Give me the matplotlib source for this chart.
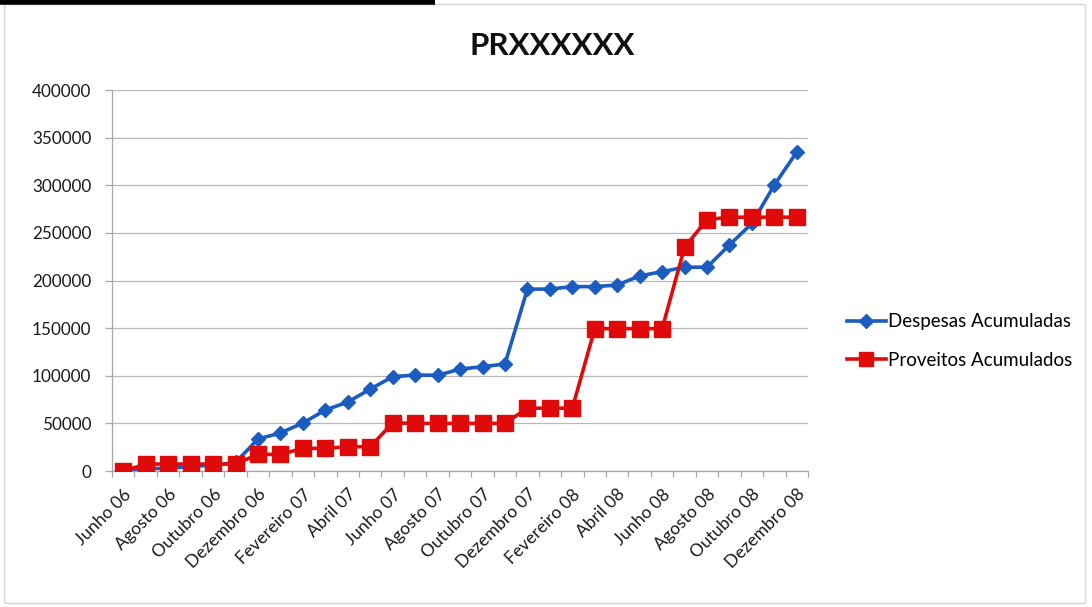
import matplotlib.pyplot as plt
from matplotlib.patches import Rectangle
from matplotlib.lines import Line2D

plt.rcParams["font.family"] = ["Lato", "DejaVu Sans"]

# monthly categories, June 2006 .. December 2008
months = ["Junho 06", "Julho 06", "Agosto 06", "Setembro 06", "Outubro 06",
          "Novembro 06", "Dezembro 06", "Janeiro 07", "Fevereiro 07", "Março 07",
          "Abril 07", "Maio 07", "Junho 07", "Julho 07", "Agosto 07",
          "Setembro 07", "Outubro 07", "Novembro 07", "Dezembro 07", "Janeiro 08",
          "Fevereiro 08", "Março 08", "Abril 08", "Maio 08", "Junho 08",
          "Julho 08", "Agosto 08", "Setembro 08", "Outubro 08", "Novembro 08",
          "Dezembro 08"]

despesas = [0, 3000, 2500, 5000, 6000, 9000, 33600, 40000, 50400, 64000,
            72500, 86000, 99000, 100800, 100500, 107000, 109500, 112400, 191000, 191000,
            193600, 193600, 195300, 204800, 209300, 214000, 214000, 237400, 260000, 300400,
            335000]

proveitos = [0, 7300, 7300, 7300, 7300, 7300, 17500, 17500, 23800, 23800,
             25500, 25500, 50500, 50000, 50000, 50000, 50000, 50000, 66000, 66000,
             66000, 149500, 149500, 149500, 149500, 235000, 264000, 266500, 266500, 266500,
             266500]

yticks = [0, 50000, 100000, 150000, 200000, 250000, 300000, 350000, 400000]

blue = "#1a5cc0"
red = "#e00a0a"
axis_grey = "#a6a6a6"

fig = plt.figure(figsize=(10.92, 6.07), dpi=100)
ax = fig.add_axes([0.1026, 0.224, 0.6374, 0.6277])

x = list(range(len(months)))
ax.plot(x, despesas, color=blue, lw=2.6, marker="D", ms=7.5,
        label="Despesas Acumuladas", zorder=3)
ax.plot(x, proveitos, color=red, lw=2.6, marker="s", ms=11,
        label="Proveitos Acumulados", zorder=4)

ax.set_xlim(-0.5, len(months) - 0.5)
ax.set_ylim(0, 400000)
ax.set_yticks(yticks)
ax.set_yticklabels([str(v) for v in yticks], fontsize=12.3, color="#1a1a1a")
ax.grid(axis="y", color="#b8b8b8", lw=0.9)
ax.set_axisbelow(True)

# category labels every second month, tick marks on bin boundaries
ax.set_xticks(x[::2])
ax.set_xticklabels(months[::2], rotation=45, ha="right", rotation_mode="anchor",
                   fontsize=12.5, color="#1a1a1a")
ax.tick_params(axis="x", length=0, pad=11)
ax.set_xticks([i - 0.5 for i in range(len(months) + 1)], minor=True)
ax.tick_params(axis="x", which="minor", length=4, color=axis_grey, width=0.9)
ax.tick_params(axis="y", length=5, color=axis_grey, width=0.9, pad=10)

for side in ["top", "right"]:
    ax.spines[side].set_visible(False)
for side in ["left", "bottom"]:
    ax.spines[side].set_color(axis_grey)
    ax.spines[side].set_linewidth(0.9)

fig.text(0.506, 0.925, "PRXXXXXX", ha="center", va="center",
         fontsize=22.5, fontweight="bold", color="#111111")

ax.legend(loc="center left", bbox_to_anchor=(0.760, 0.438), bbox_transform=fig.transFigure,
          frameon=False, fontsize=13.5, handlelength=2.1, handletextpad=0.1,
          labelspacing=1.15, markerscale=0.9)

# chart area frame and the dark bar along the top edge
fig.add_artist(Rectangle((0.004, 0.006), 0.99, 0.988, transform=fig.transFigure,
                         fill=False, ec="#d6d6d6", lw=1.0))
fig.add_artist(Line2D([0, 0.398], [0.9975, 0.9975], transform=fig.transFigure,
                      color="black", lw=4, solid_capstyle="butt"))

fig.savefig("out.png", dpi=100)
